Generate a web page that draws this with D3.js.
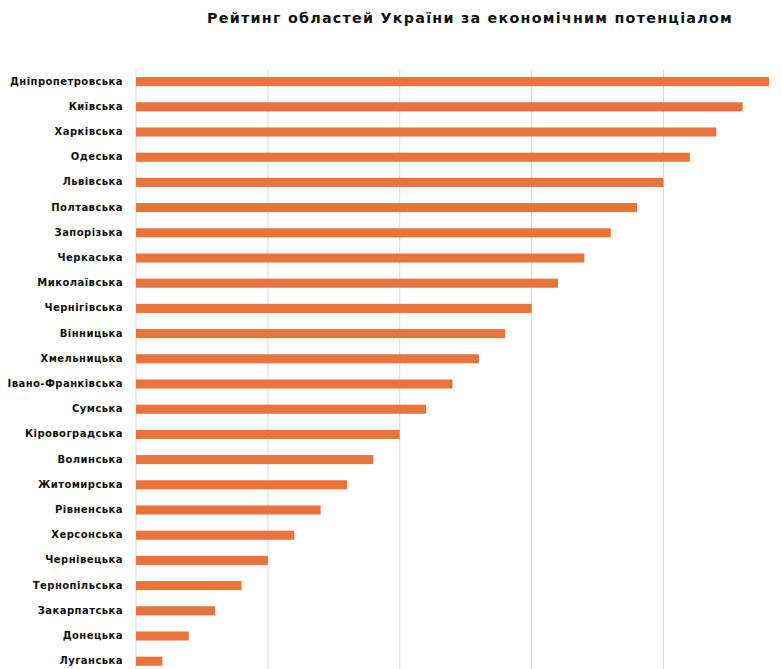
<!DOCTYPE html>
<html>
<head>
<meta charset="utf-8">
<script src="https://cdn.jsdelivr.net/npm/d3@7"></script>
<style>
  html, body { margin: 0; padding: 0; background: #fff; }
  svg { display: block; }
</style>
</head>
<body>
<svg id="chart" width="782" height="669"></svg>
<script>
// Regions ordered by economic-potential rank
const regions = [
  "Дніпропетровська", "Київська", "Харківська", "Одеська", "Львівська",
  "Полтавська", "Запорізька", "Черкаська", "Миколаївська", "Чернігівська",
  "Вінницька", "Хмельницька", "Івано-Франківська", "Сумська", "Кіровоградська",
  "Волинська", "Житомирська", "Рівненська", "Херсонська", "Чернівецька",
  "Тернопільська", "Закарпатська", "Донецька", "Луганська"
];
const scores = [24, 23, 22, 21, 20, 19, 18, 17, 16, 15, 14, 13, 12, 11, 10, 9, 8, 7, 6, 5, 4, 3, 2, 1];
const gridTicks = [0, 5, 10, 15, 20];
const chartTitle = "Рейтинг областей України за економічним потенціалом";

(function () {
  const svg = d3.select("#chart");
  const plotLeft = 136, plotRight = 769, plotTop = 69, plotBottom = 669;

  const x = d3.scaleLinear().domain([0, 24]).range([plotLeft, plotRight]);
  const y = d3.scaleBand()
    .domain(regions)
    .range([plotTop, plotTop + regions.length * 25.2])
    .paddingInner(0.64)
    .paddingOuter(0.32);

  // vertical gridlines
  svg.append("g")
    .selectAll("line")
    .data(gridTicks)
    .join("line")
    .attr("x1", d => x(d)).attr("x2", d => x(d))
    .attr("y1", plotTop).attr("y2", plotBottom)
    .attr("stroke", "#d9d9d9")
    .attr("stroke-width", 1);

  // bars
  svg.append("g")
    .selectAll("rect")
    .data(regions.map((r, i) => ({ region: r, value: scores[i] })))
    .join("rect")
    .attr("x", x(0))
    .attr("y", d => y(d.region))
    .attr("width", d => x(d.value) - x(0))
    .attr("height", y.bandwidth())
    .attr("fill", "#e8743b");

  // category labels
  const yAxis = d3.axisLeft(y).tickSize(0).tickPadding(0);
  const gy = svg.append("g")
    .attr("transform", "translate(123,0)")
    .call(yAxis);
  gy.select(".domain").remove();
  gy.selectAll("text")
    .attr("font-family", "'DejaVu Sans', Verdana, sans-serif")
    .attr("font-size", 10)
    .attr("font-weight", "bold")
    .attr("letter-spacing", "0.45px")
    .attr("dy", "0.3em")
    .attr("fill", "#111");

  // title
  svg.append("text")
    .attr("x", 470)
    .attr("y", 23)
    .attr("text-anchor", "middle")
    .attr("font-family", "'DejaVu Sans', Verdana, sans-serif")
    .attr("font-size", 14.3)
    .attr("font-weight", "bold")
    .attr("letter-spacing", "1.25px")
    .attr("fill", "#111")
    .text(chartTitle);
})();
</script>
</body>
</html>
